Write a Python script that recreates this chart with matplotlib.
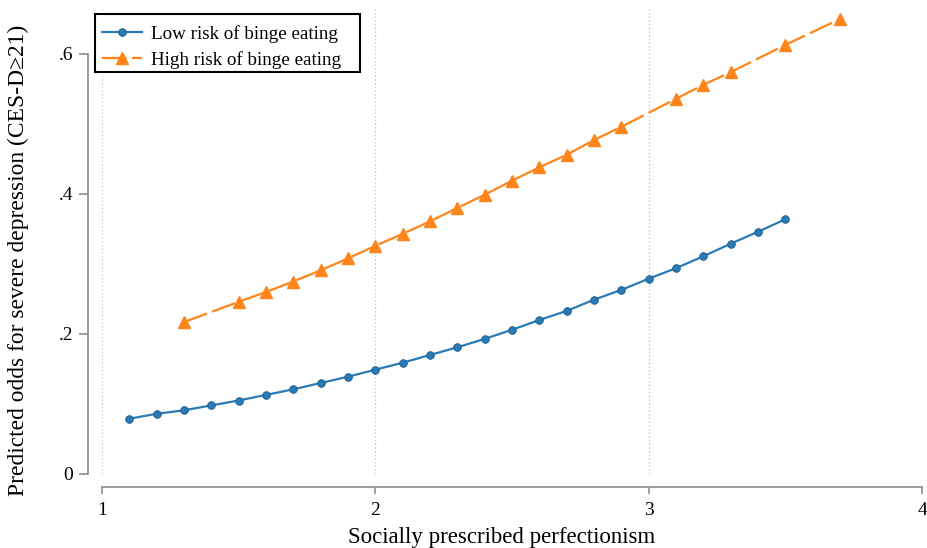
import matplotlib
matplotlib.use("Agg")
import matplotlib.pyplot as plt
from matplotlib.patches import Rectangle
import numpy as np

# predicted odds
xLow = [1.1, 1.2, 1.3, 1.4, 1.5, 1.6, 1.7, 1.8, 1.9, 2.0, 2.1, 2.2, 2.3,
        2.4, 2.5, 2.6, 2.7, 2.8, 2.9, 3.0, 3.1, 3.2, 3.3, 3.4, 3.5]
yLow = [0.079, 0.086, 0.091, 0.098, 0.105, 0.113, 0.121, 0.130, 0.139,
        0.149, 0.159, 0.170, 0.181, 0.193, 0.206, 0.220, 0.233, 0.249,
        0.263, 0.279, 0.294, 0.311, 0.329, 0.346, 0.364]

xHigh = [1.3, 1.5, 1.6, 1.7, 1.8, 1.9, 2.0, 2.1, 2.2, 2.3, 2.4, 2.5, 2.6,
         2.7, 2.8, 2.9, 3.1, 3.2, 3.3, 3.5, 3.7]
yHigh = [0.217, 0.246, 0.260, 0.275, 0.291, 0.308, 0.326, 0.343, 0.361,
         0.380, 0.399, 0.419, 0.438, 0.456, 0.477, 0.496, 0.536, 0.556,
         0.574, 0.613, 0.650]

xTicks = [1, 2, 3, 4]
yTicks = [0, 0.2, 0.4, 0.6]
yTickLabels = ["0", ".2", ".4", ".6"]

plt.rcParams['font.family'] = ['Liberation Serif', 'DejaVu Serif']

W, H = 927, 548
px = 72 / 100  # points per pixel
fig = plt.figure(figsize=(W / 100, H / 100), dpi=100)
ax = fig.add_axes([102 / W, 74 / H, (922 - 102) / W, (474 - 8) / H])

ax.plot(xLow, yLow, color='#2a7ab5', lw=1.6, marker='o', ms=5.5,
        mfc='#2a7ab5', mec='#1c5a88', mew=0.6,
        label='Low risk of binge eating', zorder=3)
ax.plot(xHigh, yHigh, color='#ff8419', lw=1.6, marker='^', ms=8.5,
        mec='#ff8419', linestyle=(0, (11, 2.5)),
        label='High risk of binge eating', zorder=3)

ax.set_xlim(1, 4)
ax.set_ylim(0, (474 - 8) / 700)
ax.set_xticks(xTicks)
ax.set_yticks(yTicks)
ax.set_yticklabels(yTickLabels)

# stata-ish axes
for s in ['top', 'right']:
    ax.spines[s].set_visible(False)
ax.spines['left'].set_position(('outward', 14 * px))
ax.spines['bottom'].set_position(('outward', 13 * px))
ax.spines['left'].set_bounds(0, 0.6)
ax.spines['bottom'].set_bounds(1, 4)
for s in ['left', 'bottom']:
    ax.spines[s].set_color('#8c8c8c')
    ax.spines[s].set_linewidth(1.2)
ax.tick_params(colors='#8c8c8c', labelcolor='black', labelsize=14,
               width=1.2)
ax.tick_params(axis='x', pad=6, length=5)
ax.tick_params(axis='y', pad=4, length=6.5)

ax.grid(True, axis='x', color='#c8c8c8', linestyle=':', lw=1)
ax.set_axisbelow(True)

ax.set_xlabel('Socially prescribed perfectionism', fontsize=16.5)
ax.set_ylabel('Predicted odds for severe depression (CES-D\u226521)',
              fontsize=16.9)
ax.xaxis.set_label_coords((502 - 102) / 820, (474 - 527) / 466)
ax.yaxis.set_label_coords((29 - 102) / 820, (474 - 260) / 466)

# legend box drawn by hand so the padding matches
box = Rectangle((95 / W, 1 - 72 / H), (360 - 95) / W, (72 - 14) / H,
                transform=fig.transFigure, facecolor='white',
                edgecolor='black', lw=1.5, clip_on=False, zorder=5)
ax.add_artist(box)
leg = ax.legend(loc='upper left', bbox_to_anchor=(95 / W, 1 - 18 / H),
                bbox_transform=fig.transFigure, borderaxespad=0,
                frameon=False, fontsize=13.7,
                handlelength=2.1, handletextpad=0.5, borderpad=0.35,
                labelspacing=0.45)
leg.set_zorder(6)

fig.savefig('out.png', dpi=100)
